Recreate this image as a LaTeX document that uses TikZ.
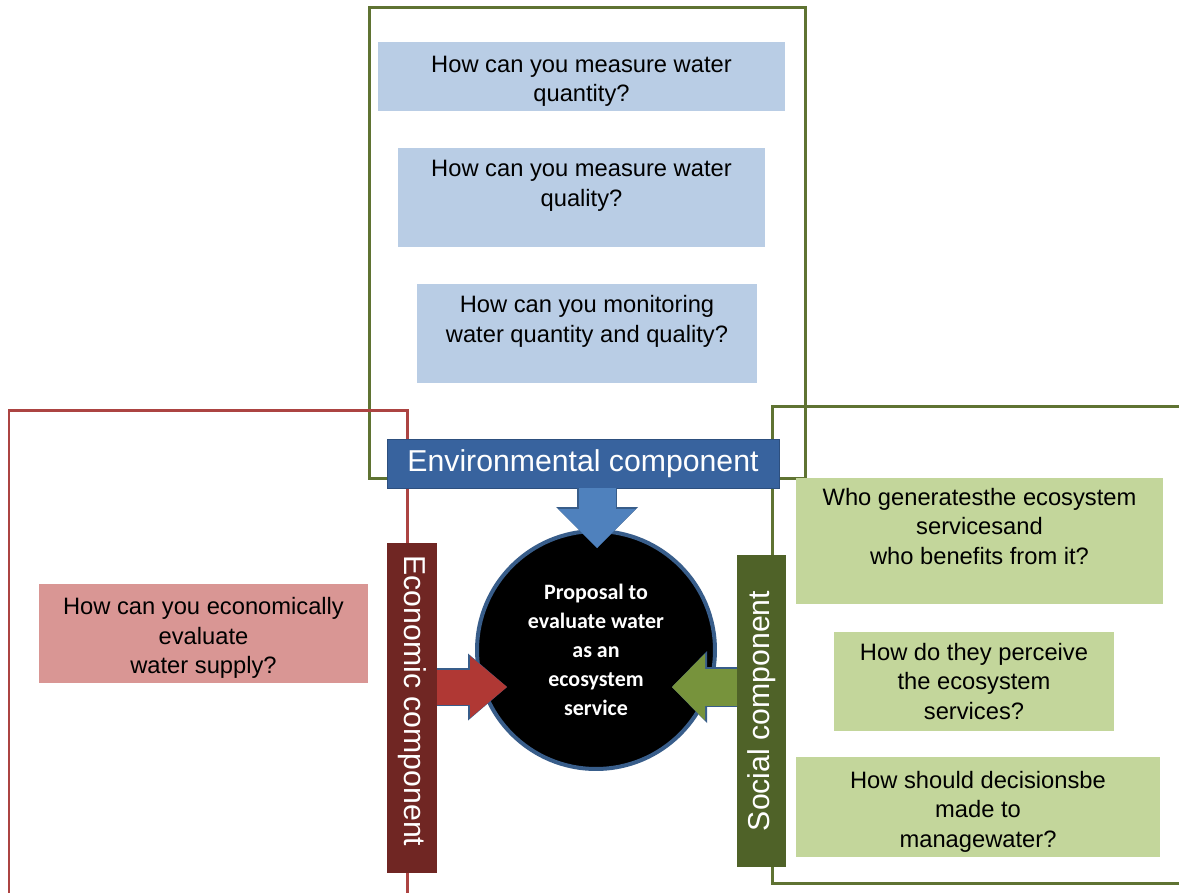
\documentclass[tikz,border=0pt]{standalone}
\usepackage{fontspec}
\setmainfont{Liberation Sans}
\newfontfamily\circfont{Carlito}
\usetikzlibrary{arrows.meta,calc}

\definecolor{framegreen}{RGB}{95,115,50}
\definecolor{framered}{RGB}{172,68,66}
\definecolor{qblue}{RGB}{185,205,229}
\definecolor{qgreen}{RGB}{195,214,155}
\definecolor{qred}{RGB}{217,150,148}
\definecolor{envdark}{RGB}{56,99,158}
\definecolor{econdark}{RGB}{112,38,35}
\definecolor{socdark}{RGB}{79,98,40}
\definecolor{arrblue}{RGB}{79,129,189}
\definecolor{arrred}{RGB}{176,56,52}
\definecolor{arrgreen}{RGB}{119,147,60}
\definecolor{arredge}{RGB}{56,93,138}
% extra room above the first line of a question
\newcommand{\qgap}{\rule{0pt}{15pt}}

\begin{document}
\begin{tikzpicture}[x=0.02cm,y=-0.02cm,line join=miter,
  frame/.style={line width=0.06cm},
  question/.style={inner sep=0pt,outer sep=0pt,align=center,
    font=\fontsize{13.5}{16.8}\selectfont},
  complabel/.style={inner sep=0pt,outer sep=0pt,text=white,
    font=\fontsize{17.2}{20}\selectfont},
  fatarrow/.style n args={3}{line width=#1,
    -{Triangle[length=#2,width=#3,line width=0pt]}}]
\useasboundingbox (0,0) rectangle (1179,892);
% frames of the three components
\draw[frame,framegreen] (369,8) rectangle (805,478);
\draw[frame,framered] (9,410) rectangle (407,905);
\draw[frame,framegreen] (772,406) rectangle (1190,883);
% environmental questions
\node[question,fill=qblue,minimum width=8.14cm,minimum height=1.38cm] (q1) at (581.5,76.5)
  {\qgap How can you measure water\\quantity?};
\node[question,fill=qblue,minimum width=7.34cm,minimum height=1.98cm] (q2) at (581.5,197.5)
  {\qgap How can you measure water\\quality?\\\strut};
\node[question,fill=qblue,minimum width=6.8cm,minimum height=1.98cm] (q3) at (587,333.5)
  {\qgap How can you monitoring\\water quantity and quality?\\\strut};
% economic question
\node[question,fill=qred,minimum width=6.58cm,minimum height=1.98cm] (r1) at (203.5,633.5)
  {\qgap How can you economically\\evaluate\\water supply?};
% social questions
\node[question,fill=qgreen,minimum width=7.34cm,minimum height=2.52cm] (g1) at (979.5,541)
  {\qgap Who generatesthe ecosystem\\servicesand\\who benefits from it?\\\strut};
\node[question,fill=qgreen,minimum width=5.6cm,minimum height=1.98cm] (g2) at (974,681.5)
  {How do they perceive\\the ecosystem\\services?};
\node[question,fill=qgreen,minimum width=7.28cm,minimum height=2cm] (g3) at (978,807)
  {\qgap How should decisionsbe\\made to\\managewater?};
% component labels
\node[complabel,fill=envdark,draw=envdark!80!black,minimum width=7.84cm,minimum height=0.98cm]
  (envlbl) at (583,463.5) {Environmental component};
\node[complabel,fill=econdark,minimum width=1cm,minimum height=6.6cm]
  (econlbl) at (412,708) {\rotatebox{-90}{Economic component\hspace{8pt}}};
\node[complabel,fill=socdark,minimum width=0.98cm,minimum height=6.24cm]
  (soclbl) at (761.5,711) {\rotatebox{90}{Social component}};
% central proposal
\node[circle,fill=black,draw=arredge,line width=0.08cm,minimum size=4.76cm,inner sep=0pt,
  text=white,align=center,font=\circfont\bfseries\fontsize{12.5}{16.5}\selectfont]
  (circ) at (596,650) {Proposal to\\evaluate water\\as an\\ecosystem\\service};
% arrow tips
\coordinate (envtip) at (597,548);
\coordinate (econtip) at (507,687);
\coordinate (soctip) at (672,687);
% block arrows into the proposal
\draw[fatarrow={0.74cm}{0.78cm}{1.54cm},arrblue,
  preaction={draw=arredge,fatarrow={0.8cm}{0.82cm}{1.64cm}}] (envlbl.south -| envtip) -- (envtip);
\draw[fatarrow={0.7cm}{0.74cm}{1.24cm},arrred,
  preaction={draw=arredge,fatarrow={0.76cm}{0.78cm}{1.34cm}}] (econlbl.east |- econtip) -- (econtip);
\draw[fatarrow={0.74cm}{0.66cm}{1.34cm},arrgreen,
  preaction={draw=arredge,fatarrow={0.8cm}{0.7cm}{1.44cm}}] (soclbl.west |- soctip) -- (soctip);
\end{tikzpicture}
\end{document}
